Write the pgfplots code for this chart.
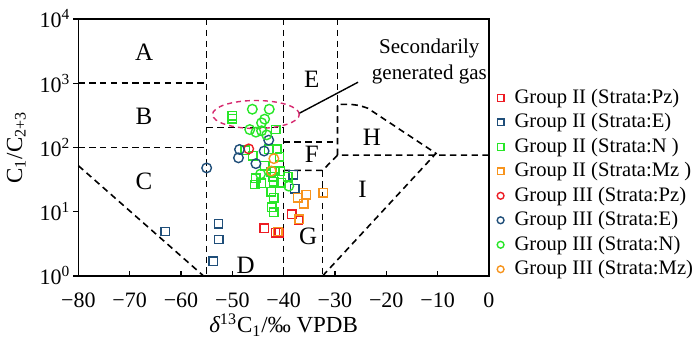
\documentclass[border=0pt]{standalone}
\usepackage{fontspec}
\setmainfont{Liberation Serif}
\usepackage{pgfplots}
\pgfplotsset{compat=1.18}
\definecolor{cred}{RGB}{237,28,36}
\definecolor{cblue}{RGB}{31,78,121}
\definecolor{cgreen}{RGB}{40,230,40}
\definecolor{corange}{RGB}{247,148,29}
\definecolor{cmag}{RGB}{214,40,110}
\begin{document}
\begin{tikzpicture}
\path[use as bounding box] (-39.2pt,-31pt) rectangle (310.4pt,138pt);
\begin{axis}[
  scale only axis, width=205.3pt, height=128.5pt,
  at={(0,0)}, anchor=south west,
  ymode=log, xmin=-80, xmax=0, ymin=1, ymax=10000,
  xtick={-80,-70,...,0},
  xticklabels={−80,−70,−60,−50,−40,−30,−20,−10,0},
  ytick={1,10,100,1000,10000},
  yticklabels={10\textsuperscript{0},10\textsuperscript{1},10\textsuperscript{2},10\textsuperscript{3},10\textsuperscript{4}},
  minor tick num=0, yminorticks=false,
  xtick pos=bottom, ytick pos=left,
  xtick align=inside, ytick align=outside,
  major tick length=2.5pt,
  tick style={black, line width=0.6pt},
  axis line style={line width=0.7pt},
  tick label style={font=\fontsize{11}{13}\selectfont},
  xticklabel style={yshift=-5pt},
  yticklabel style={xshift=2pt},
  xlabel={{\itshape δ}\textsuperscript{13}C\textsubscript{1}/‰ VPDB},
  ylabel={C\textsubscript{1}/C\textsubscript{2+3}},
  xlabel style={yshift=4pt},
  label style={font=\fontsize{11.5}{13}\selectfont},
  clip=false,
  legend style={draw=none, at={(1.013,0.74)}, anchor=north west, font=\fontsize{10.3}{12}\selectfont,
    row sep=0.6pt, inner sep=0pt, nodes={inner sep=1.5pt}},
  legend cell align=left,
  legend image code/.code={\path[draw=none,fill=none] (0,0) -- (0.85em,0); \draw[#1, mark size=1.7pt] plot coordinates {(0.3em,0em)};},
]
% boundary lines
\pgfplotsset{bnd/.style={black, dash pattern=on 3.2pt off 2.2pt, line width=0.8pt, forget plot}}
\addplot[bnd] coordinates {(-55,10000) (-55,1)};
\addplot[bnd] coordinates {(-80,1000) (-55,1000)};
\addplot[bnd] coordinates {(-80,100) (-55,100)};
\addplot[bnd] coordinates {(-80,52) (-55.6,1)};
\addplot[bnd] coordinates {(-55,205) (-40,205)};
\addplot[bnd] coordinates {(-40,10000) (-40,1)};
\addplot[bnd] coordinates {(-40,122) (-29.5,122)};
\addplot[bnd] coordinates {(-29.5,10000) (-29.5,76)};
\addplot[bnd] coordinates {(-40,44) (-32.4,44) (-29.5,76) (0,76)};
\addplot[bnd] coordinates {(-32.4,44) (-32.4,1)};
\addplot[bnd] coordinates {(-29.5,76) (-29.5,470) (-26.8,468) (-25.2,450) (-23.6,408) (-10.3,80.8) (-32.4,1)};
% annotations
\draw[cmag, dash pattern=on 2.5pt off 2pt, line width=0.7pt] (axis cs:-45.4,326) ellipse [x radius=21.7pt, y radius=7pt];
\draw[black, line width=0.7pt] (axis cs:-36.9,342) -- (axis cs:-25.5,1037);
\node[align=center, font=\fontsize{10.5}{13}\selectfont] at (axis cs:-11.6,2200) {Secondarily\\generated gas};
\node[font=\fontsize{12.5}{14}\selectfont] at (axis cs:-67.2,3000) {A};
\node[font=\fontsize{12.5}{14}\selectfont] at (axis cs:-67.2,310) {B};
\node[font=\fontsize{12.5}{14}\selectfont] at (axis cs:-67.2,30) {C};
\node[font=\fontsize{12.5}{14}\selectfont] at (axis cs:-47.4,1.48) {D};
\node[font=\fontsize{12.5}{14}\selectfont] at (axis cs:-34.5,1150) {E};
\node[font=\fontsize{12.5}{14}\selectfont] at (axis cs:-34.5,78) {F};
\node[font=\fontsize{12.5}{14}\selectfont] at (axis cs:-35.2,4.2) {G};
\node[font=\fontsize{12.5}{14}\selectfont] at (axis cs:-22.8,146) {H};
\node[font=\fontsize{12.5}{14}\selectfont] at (axis cs:-24.6,22.3) {I};
% data
\addplot[only marks, mark=square, mark size=2.1pt, cred, line width=0.7pt] coordinates {
(-43.8,5.5) (-41.6,4.7) (-40.9,4.7) (-38.4,9.1) (-37.1,7.4)};
\addlegendentry{Group II (Strata:Pz)}
\addplot[only marks, mark=square, mark size=2.1pt, cblue, line width=0.7pt] coordinates {
(-63.1,4.9) (-52.7,6.5) (-52.6,3.7) (-53.7,1.7) (-38.1,37.6) (-37.8,22.8)};
\addlegendentry{Group II (Strata:E)}
\addplot[only marks, mark=square, mark size=2.1pt, cgreen, line width=0.7pt] coordinates {
(-50,311) (-50,280) (-41.5,190) (-42.9,94) (-41.3,94) (-40.8,72) (-46,74) (-47.5,91)
(-43.7,52) (-45.4,33) (-45.6,26.6) (-44.4,27.6) (-42.4,42) (-41.7,43) (-40.6,43)
(-42,35) (-41.9,29) (-40.5,28) (-39.2,35) (-42.4,20.5) (-41.9,16.5) (-42.3,11.7) (-41.9,9.8)};
\addlegendentry{Group II (Strata:N )}
\addplot[only marks, mark=square, mark size=2.1pt, corange, line width=0.7pt] coordinates {
(-37.2,16.5) (-35.6,18.2) (-36.1,13.2) (-32.3,19.7) (-41.1,4.9) (-37.0,7.6)};
\addlegendentry{Group II (Strata:Mz )}
\addplot[only marks, mark=o, mark size=2.4pt, cred, line width=0.7pt] coordinates {
(-46.8,95)};
\addlegendentry{Group III (Strata:Pz)}
\addplot[only marks, mark=o, mark size=2.4pt, cblue, line width=0.7pt] coordinates {
(-55,48) (-48.6,93) (-48.8,69) (-45.4,56) (-43.8,88) (-42.9,130)};
\addlegendentry{Group III (Strata:E)}
\addplot[only marks, mark=o, mark size=2.4pt, cgreen, line width=0.7pt] coordinates {
(-46.1,394) (-42.8,394) (-43.7,276) (-44.3,242) (-46.6,190) (-45.4,173) (-44.3,182)
(-43.3,157) (-44.5,38.5) (-39,25)};
\addlegendentry{Group III (Strata:N)}
\addplot[only marks, mark=o, mark size=2.4pt, corange, line width=0.7pt] coordinates {
(-41.9,67) (-42.4,43)};
\addlegendentry{Group III (Strata:Mz)}
\end{axis}
\end{tikzpicture}
\end{document}
